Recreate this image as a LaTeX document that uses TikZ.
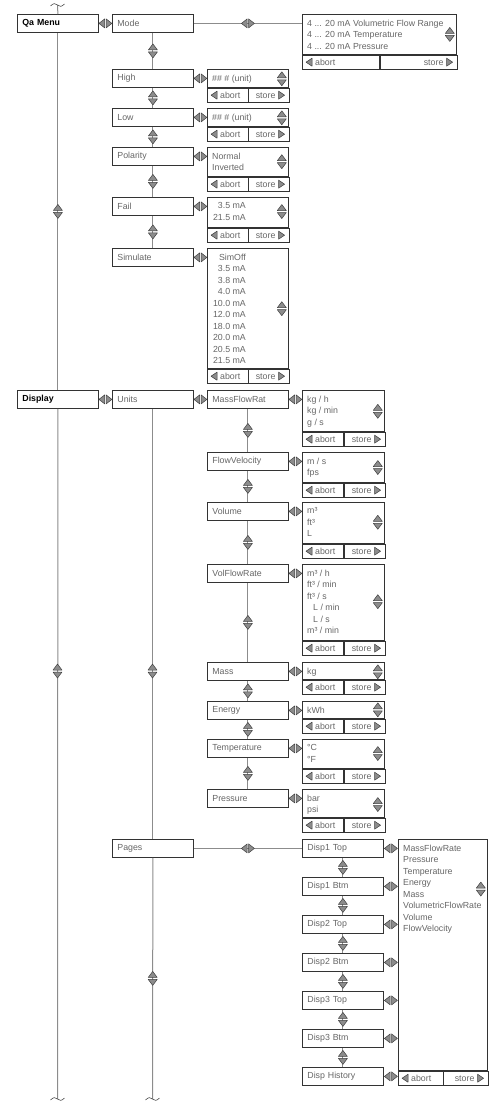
\documentclass[tikz,border=0pt]{standalone}
\usepackage{fontspec}
\setmainfont{Liberation Sans}
\usetikzlibrary{calc}

\tikzset{
  conn/.style={draw=black!45, line width=1pt},
  box/.style={draw=black!80, line width=.8pt, fill=white, anchor=north west,
    minimum height=18, inner xsep=5pt, inner ysep=0pt, text width=71pt,
    align=left, text=black!60, font=\fontsize{8.8}{11}\selectfont},
  topbox/.style={box, text=black, font=\fontsize{8.8}{11}\selectfont\bfseries},
  dlg/.style={draw=black!80, line width=.8pt, anchor=north west, inner sep=0pt},
  dtxt/.style={anchor=north west, align=left, inner xsep=5pt, inner ysep=5.5pt,
    text=black!60, font=\fontsize{8.8}{11.5}\selectfont},
  btn/.style={draw=black!80, line width=.8pt, anchor=north west, inner sep=0pt,
    minimum height=14},
  btxt/.style={inner sep=0pt, text=black!60, font=\fontsize{8.8}{11}\selectfont},
  ico/.style={fill=black!45, draw=black!75, line width=.5pt, line join=round},
  lr/.pic={\path[ico] (-6.5,0) -- (-.7,-4.5) -- (-.7,4.5) -- cycle;
           \path[ico] (6.5,0) -- (.7,-4.5) -- (.7,4.5) -- cycle;},
  ud/.pic={\path[ico] (0,-7) -- (-4.5,-1) -- (4.5,-1) -- cycle;
           \path[ico] (0,7) -- (-4.5,1) -- (4.5,1) -- cycle;},
  ltri/.pic={\path[ico] (-3,0) -- (3,-4) -- (3,4) -- cycle;},
  rtri/.pic={\path[ico] (3,0) -- (-3,-4) -- (-3,4) -- cycle;},
  tilde/.pic={\draw[black!70, line width=.6pt] (-7,1) .. controls (-4,-2) and (-2,-2) .. (0,0)
              .. controls (2,2) and (4,2) .. (7,-1);},
}

% selection dialog: name, position, width, height, text options, lines
\newcommand\dlgbox[6]{
  \node[dlg, minimum width=#3, minimum height=#4] (#1) at #2 {};
  \node[dtxt, #5] (#1t) at (#1.north west) {#6};
  \pic at ($(#1.east |- #1t.center)+(-7,0)$) {ud};
  \node[btn, minimum width=#3/2] (#1a) at (#1.south west) {};
  \node[btn, minimum width=#3/2] (#1s) at (#1a.north east) {};
  \pic at ($(#1a.west)+(7,0)$) {ltri};
  \node[btxt, anchor=base west] (#1at) at ($(#1a.west)+(13,3.2)$) {abort};
  \node[btxt, anchor=base east] (#1st) at ($(#1s.east)+(-14,3.2)$) {store};
  \pic at ($(#1s.east)+(-8,0)$) {rtri};
}

\begin{document}
\begin{tikzpicture}[x=1pt, y=-1pt]
  \useasboundingbox (0,0) rectangle (493,1115);

  % main menu
  \node[topbox] (qa) at (17,14) {Qa Menu};
  \node[topbox] (display) at (17,390) {Display};

  % Qa Menu
  \node[box] (mode) at (112,14) {Mode};
  \node[box] (high) at (112,69) {High};
  \node[box] (low) at (112,108) {Low};
  \node[box] (polarity) at (112,147) {Polarity};
  \node[box] (fail) at (112,197) {Fail};
  \node[box] (simulate) at (112,248) {Simulate};

  % Display
  \node[box] (units) at (112,390) {Units};
  \node[box] (pages) at (112,839) {Pages};

  % Units
  \node[box] (mfr) at (207,390) {MassFlowRat};
  \node[box] (fv) at (207,452) {FlowVelocity};
  \node[box] (vol) at (207,502) {Volume};
  \node[box] (vfr) at (207,564) {VolFlowRate};
  \node[box] (mass) at (207,662) {Mass};
  \node[box] (energy) at (207,701) {Energy};
  \node[box] (temp) at (207,739) {Temperature};
  \node[box] (pres) at (207,789) {Pressure};

  % Pages
  \node[box] (d1t) at (302,839) {Disp1 Top};
  \node[box] (d1b) at (302,877) {Disp1 Btm};
  \node[box] (d2t) at (302,915) {Disp2 Top};
  \node[box] (d2b) at (302,953) {Disp2 Btm};
  \node[box] (d3t) at (302,991) {Disp3 Top};
  \node[box] (d3b) at (302,1029) {Disp3 Btm};
  \node[box] (dh) at (302,1067) {Disp History};

  % dialogs
  \dlgbox{modeD}{(302,14)}{154}{40}{}{4 ... 20 mA Volumetric Flow Range\\4 ... 20 mA Temperature\\4 ... 20 mA Pressure}
  \dlgbox{highD}{(207,69)}{81}{18}{}{\#\# \# (unit)}
  \dlgbox{lowD}{(207,108)}{81}{18}{}{\#\# \# (unit)}
  \dlgbox{polD}{(207,147)}{81}{29}{}{Normal\\Inverted}
  \dlgbox{failD}{(207,197)}{81}{30}{anchor=north east, align=right, xshift=44}{3.5 mA\\21.5 mA}
  \dlgbox{simD}{(207,248)}{81}{120}{anchor=north east, align=right, xshift=44}{SimOff\\3.5 mA\\3.8 mA\\4.0 mA\\10.0 mA\\12.0 mA\\18.0 mA\\20.0 mA\\20.5 mA\\21.5 mA}
  \dlgbox{mfrD}{(302,390)}{82}{41}{}{kg / h\\kg / min\\g / s}
  \dlgbox{fvD}{(302,452)}{82}{30}{}{m / s\\fps}
  \dlgbox{volD}{(302,502)}{82}{41}{}{m³\\ft³\\L}
  \dlgbox{vfrD}{(302,564)}{82}{76}{}{m³ / h\\ft³ / min\\ft³ / s\\\hspace*{6pt}L / min\\\hspace*{6pt}L / s\\m³ / min}
  \dlgbox{massD}{(302,662)}{82}{17}{}{kg}
  \dlgbox{enD}{(302,701)}{82}{17}{}{kWh}
  \dlgbox{tempD}{(302,739)}{82}{29}{}{°C\\°F}
  \dlgbox{presD}{(302,789)}{82}{28}{}{bar\\psi}
  \dlgbox{dispD}{(398,839)}{89}{231}{}{MassFlowRate\\Pressure\\Temperature\\Energy\\Mass\\VolumetricFlowRate\\Volume\\FlowVelocity}

  % main lines with cut ends
  \coordinate (top) at (57.5,5);
  \coordinate (end1) at (57.5,1099);
  \coordinate (end2) at (152.5,1099);
  \draw[conn] (top) -- (qa.north);
  \draw[conn] (qa.south) -- (display.north);
  \draw[conn] (display.south) -- (end1);
  \draw[conn] (units.south) -- (pages.north);
  \draw[conn] (pages.south) -- (end2);
  \pic at (top) {tilde};
  \pic at (end1) {tilde};
  \pic at (end2) {tilde};
  \pic at ($(qa.south)!.5!(display.north)$) {ud};
  \pic at (57.5,671) {ud};
  \pic at (152.5,671) {ud};
  \pic at ($(pages.south)!.5!(end2)$) {ud};

  % up / down links
  \foreach \a/\b in {mode/high, high/low, low/polarity, polarity/fail, fail/simulate,
      mfr/fv, fv/vol, vol/vfr, vfr/mass, mass/energy, energy/temp, temp/pres,
      d1t/d1b, d1b/d2t, d2t/d2b, d2b/d3t, d3t/d3b, d3b/dh} {
    \draw[conn] (\a.south) -- (\b.north);
    \pic at ($(\a.south)!.5!(\b.north)$) {ud};
  }

  % long links to the right
  \draw[conn] (mode.east) -- (mode.east -| modeD.west);
  \draw[conn] (pages.east) -- (d1t.west);
  \pic at ($(mode.east)!.5!(mode.east -| modeD.west)$) {lr};
  \pic at ($(pages.east)!.5!(d1t.west)$) {lr};

  % left / right links
  \foreach \a/\b in {qa/mode, display/units, units/mfr, high/highD, low/lowD,
      polarity/polD, fail/failD, simulate/simD, mfr/mfrD, fv/fvD, vol/volD,
      vfr/vfrD, mass/massD, energy/enD, temp/tempD, pres/presD,
      d1t/dispD, d1b/dispD, d2t/dispD, d2b/dispD, d3t/dispD, d3b/dispD, dh/dispD} {
    \pic at ($(\a.east)!.5!(\a.east -| \b.west)$) {lr};
  }
\end{tikzpicture}
\end{document}
